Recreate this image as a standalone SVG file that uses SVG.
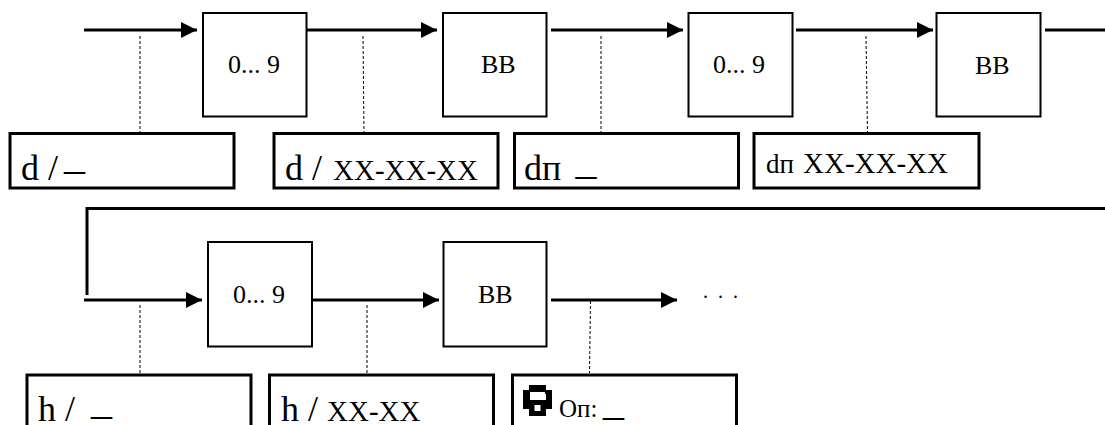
<svg xmlns="http://www.w3.org/2000/svg" width="1105" height="425" viewBox="0 0 1105 425">
<defs>
<marker id="ah" markerUnits="userSpaceOnUse" markerWidth="16" markerHeight="16" refX="16" refY="8" orient="auto"><path d="M0 0L16 8L0 16Z" fill="#000"/></marker>
</defs>
<style>
text{font-family:"Liberation Serif","Times New Roman",serif;fill:#000}
.b rect{fill:#fff;stroke:#000;stroke-width:2}
.l rect{fill:#fff;stroke:#000;stroke-width:3}
.s{fill:none;stroke:#000;stroke-width:3}
.d{fill:none;stroke:#000;stroke-width:1;stroke-dasharray:3 2}
.t{font-size:26px}
.u{font-size:42px}
</style>
<rect width="1105" height="425" fill="#fff"/>
<g id="connectors">
<path class="s" marker-end="url(#ah)" d="M84 30H197"/>
<path class="s" marker-end="url(#ah)" d="M306 30H437"/>
<path class="s" marker-end="url(#ah)" d="M551 30H683"/>
<path class="s" marker-end="url(#ah)" d="M796 30H933"/>
<path class="s" d="M1045 30H1105"/>
<path class="s" d="M1105 208.500H87V295"/>
<path class="s" marker-end="url(#ah)" d="M84 300H202"/>
<path class="s" marker-end="url(#ah)" d="M312 300H439"/>
<path class="s" marker-end="url(#ah)" d="M551 300H677"/>
<path class="d" d="M140 36V133"/>
<path class="d" d="M363 36L364 133"/>
<path class="d" d="M601 36V133"/>
<path class="d" d="M866 36L867.500 133"/>
<path class="d" d="M140 305V373"/>
<path class="d" d="M367 305V373"/>
<path class="d" d="M590.500 301L589.500 373"/>
</g>
<g id="n1" class="b"><rect x="203" y="13" width="103.500" height="103.500"/><text class="t" x="228" y="73">0... 9</text></g>
<g id="n2" class="b"><rect x="443" y="13" width="103.500" height="103.500"/><text class="t" x="481" y="73">BB</text></g>
<g id="n3" class="b"><rect x="688.500" y="13" width="104" height="103.500"/><text class="t" x="713" y="73">0... 9</text></g>
<g id="n4" class="b"><rect x="936.500" y="13" width="104" height="103.500"/><text class="t" x="975" y="74">BB</text></g>
<g id="n5" class="b"><rect x="208" y="242" width="104" height="104.500"/><text class="t" x="233" y="303">0... 9</text></g>
<g id="n6" class="b"><rect x="443.500" y="242" width="103" height="104.500"/><text class="t" x="478" y="303">BB</text></g>
<g id="l1" class="l"><rect x="10" y="133.500" width="224" height="54.500"/><text x="21" y="180" font-size="36">d /</text><text class="u" x="64" y="169">_</text></g>
<g id="l2" class="l"><rect x="274" y="133.500" width="224" height="54.500"/><text x="285" y="180" font-size="36">d /</text><text x="333" y="180" font-size="29">XX-XX-XX</text></g>
<g id="l3" class="l"><rect x="514.500" y="133.500" width="224" height="54.500"/><text x="524" y="180" font-size="36">dп</text><text class="u" x="575.500" y="174">_</text></g>
<g id="l4" class="l"><rect x="754" y="133.500" width="225" height="54.500"/><text x="766" y="173" font-size="27">dп</text><text x="803" y="173" font-size="29">XX-XX-XX</text></g>
<g id="l5" class="l"><rect x="27" y="375" width="224" height="60"/><text x="38" y="421" font-size="36">h /</text><text class="u" x="91" y="414">_</text></g>
<g id="l6" class="l"><rect x="269.500" y="375" width="224" height="60"/><text x="281" y="421" font-size="36">h /</text><text x="327" y="421" font-size="29">XX-XX</text></g>
<g id="l7" class="l"><rect x="512.500" y="375" width="224" height="60"/><path d="M529 385h17v5h6v19h-6v7h-17v-7h-6v-19h6zM530 392v8h16v-6h-1v-2zM534.500 405v6h6v-6z" fill="#000" fill-rule="evenodd"/><text x="559" y="417" font-size="25">Оп:</text><text class="u" x="603" y="415">_</text></g>
<text id="more" x="703" y="298" font-size="20" letter-spacing="2.500">. . .</text>
</svg>
